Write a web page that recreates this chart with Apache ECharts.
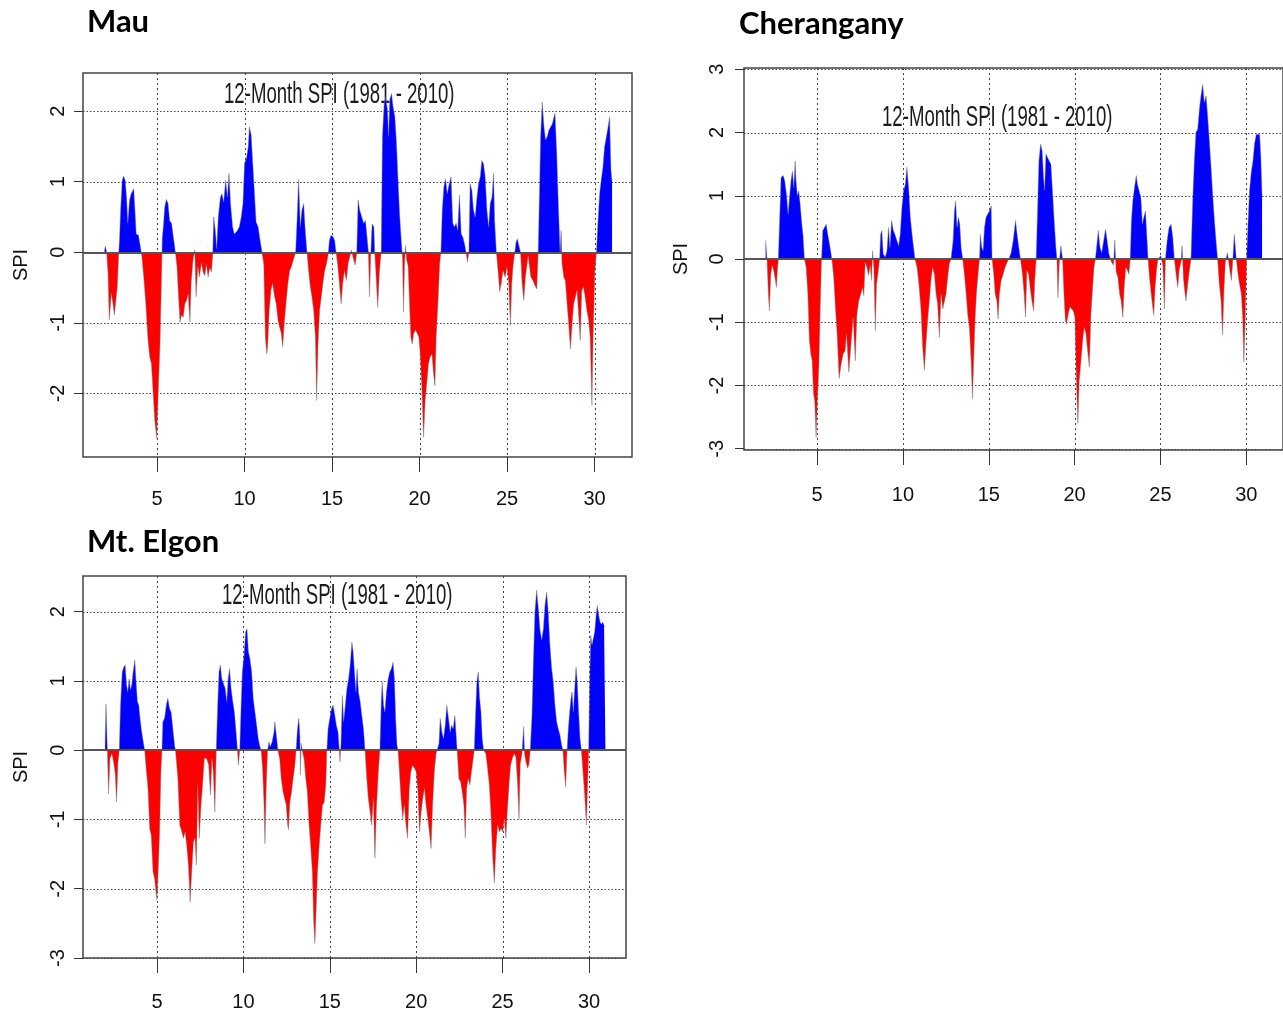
<!DOCTYPE html>
<html><head><meta charset="utf-8">
<script src="https://cdn.jsdelivr.net/npm/echarts@6/dist/echarts.min.js"></script>
<style>html,body{margin:0;padding:0;background:#fff}#c{width:1283px;height:1012px}</style>
</head><body><div id="c"></div>
<script>
// ---------- data ----------
const xTicks = [5, 10, 15, 20, 25, 30];
const mauYTicks = [-2, -1, 0, 1, 2];
const cherYTicks = [-3, -2, -1, 0, 1, 2, 3];
const elgonYTicks = [-3, -2, -1, 0, 1, 2];
const panelTitles = ['Mau', 'Cherangany', 'Mt. Elgon'];
const innerTitle = '12-Month SPI (1981 - 2010)';
const yName = 'SPI';

const mauSPI = [[2.00,0.03],[2.05,0.09],[2.12,0.0],[2.20,-0.30],[2.27,-0.96],[2.39,-0.58],[2.48,-0.73],[2.56,-0.89],[2.65,-0.68],[2.73,-0.49],[2.80,-0.07],[2.86,0.20],[2.92,0.60],[3.01,1.02],[3.09,1.08],[3.18,1.02],[3.26,0.78],[3.33,0.41],[3.43,0.74],[3.52,0.83],[3.67,0.90],[3.75,0.55],[3.81,0.26],[3.94,0.24],[4.05,0.08],[4.13,-0.05],[4.24,-0.35],[4.36,-0.73],[4.47,-1.20],[4.58,-1.48],[4.68,-1.58],[4.77,-1.96],[4.87,-2.38],[4.98,-2.64],[5.08,-1.91],[5.17,-1.30],[5.21,-1.30],[5.27,-0.20],[5.30,0.20],[5.36,0.36],[5.44,0.64],[5.53,0.75],[5.63,0.69],[5.72,0.45],[5.83,0.41],[5.93,0.22],[6.04,0.02],[6.14,-0.20],[6.23,-0.63],[6.31,-0.99],[6.40,-0.89],[6.50,-0.92],[6.59,-0.73],[6.69,-0.68],[6.78,-0.59],[6.88,-0.99],[6.95,-0.44],[7.06,-0.10],[7.16,0.03],[7.23,-0.63],[7.33,-0.20],[7.42,-0.35],[7.54,-0.15],[7.63,-0.28],[7.73,-0.33],[7.82,-0.17],[7.92,-0.35],[8.01,-0.22],[8.11,-0.28],[8.18,-0.05],[8.24,0.50],[8.33,0.31],[8.41,0.05],[8.50,0.50],[8.62,0.78],[8.71,0.83],[8.81,0.71],[8.92,1.02],[9.02,0.78],[9.11,1.12],[9.20,0.69],[9.32,0.36],[9.41,0.26],[9.55,0.29],[9.70,0.36],[9.81,0.50],[9.91,0.69],[10.00,1.26],[10.11,1.33],[10.21,1.49],[10.28,1.78],[10.38,1.66],[10.47,1.26],[10.57,0.83],[10.66,0.43],[10.78,0.36],[10.89,0.17],[11.00,0.0],[11.10,-0.17],[11.19,-1.20],[11.27,-1.44],[11.32,-1.34],[11.41,-0.82],[11.51,-0.54],[11.60,-0.44],[11.72,-0.63],[11.81,-0.73],[11.91,-0.96],[12.00,-1.06],[12.10,-1.15],[12.18,-1.34],[12.27,-1.01],[12.37,-0.73],[12.48,-0.44],[12.58,-0.26],[12.67,-0.21],[12.79,-0.11],[12.92,0.0],[13.00,0.45],[13.09,1.04],[13.19,0.36],[13.28,0.60],[13.38,0.69],[13.47,0.31],[13.57,0.0],[13.66,-0.26],[13.76,-0.49],[13.85,-0.63],[13.95,-0.82],[14.05,-1.20],[14.12,-2.10],[14.20,-1.30],[14.29,-0.82],[14.39,-0.63],[14.48,-0.44],[14.58,-0.26],[14.68,-0.17],[14.77,-0.05],[14.85,0.17],[14.94,0.24],[15.06,0.22],[15.15,0.17],[15.23,0.0],[15.32,-0.17],[15.42,-0.44],[15.52,-0.73],[15.61,-0.44],[15.71,-0.26],[15.82,-0.40],[15.92,-0.16],[16.01,-0.07],[16.11,0.03],[16.20,-0.07],[16.32,-0.18],[16.41,-0.02],[16.49,0.74],[16.58,0.60],[16.70,0.50],[16.81,0.41],[16.91,0.45],[17.00,0.22],[17.08,0.0],[17.14,-0.63],[17.21,-0.05],[17.29,0.40],[17.39,0.36],[17.44,0.0],[17.52,-0.35],[17.61,-0.78],[17.71,-0.26],[17.81,0.0],[17.88,1.64],[17.98,2.11],[18.07,2.20],[18.17,2.01],[18.23,1.64],[18.30,2.16],[18.40,2.25],[18.49,2.06],[18.59,1.92],[18.68,1.56],[18.78,0.97],[18.87,0.50],[18.97,0.12],[19.03,-0.10],[19.08,-0.85],[19.14,-0.20],[19.20,0.10],[19.26,-0.10],[19.35,-0.20],[19.43,-0.73],[19.50,-1.20],[19.58,-1.30],[19.67,-1.15],[19.77,-1.10],[19.87,-1.15],[19.96,-1.20],[20.04,-1.44],[20.13,-1.91],[20.23,-2.62],[20.32,-2.10],[20.42,-1.84],[20.51,-1.58],[20.61,-1.48],[20.71,-1.44],[20.80,-1.72],[20.88,-1.89],[20.95,-1.20],[21.05,-0.73],[21.15,-0.17],[21.22,0.0],[21.30,0.60],[21.39,0.93],[21.49,1.04],[21.58,0.83],[21.68,0.95],[21.80,1.07],[21.90,0.41],[21.99,0.36],[22.09,0.41],[22.18,0.31],[22.28,0.81],[22.38,0.26],[22.47,0.22],[22.57,0.12],[22.66,0.0],[22.74,-0.14],[22.82,0.0],[22.89,0.97],[22.99,0.88],[23.08,0.60],[23.18,0.50],[23.28,0.78],[23.37,0.97],[23.47,1.07],[23.56,1.30],[23.66,1.25],[23.75,1.07],[23.85,0.60],[23.95,0.36],[24.04,0.69],[24.14,0.78],[24.23,1.12],[24.29,0.45],[24.39,0.0],[24.50,-0.30],[24.58,-0.56],[24.67,-0.44],[24.77,-0.26],[24.89,-0.35],[25.00,-0.21],[25.10,-0.44],[25.19,-1.04],[25.27,-0.44],[25.34,-0.21],[25.44,0.0],[25.52,0.15],[25.59,0.19],[25.69,0.19],[25.77,0.0],[25.86,-0.44],[25.96,-0.68],[26.05,-0.35],[26.15,-0.16],[26.21,-0.05],[26.26,-0.16],[26.36,-0.35],[26.48,-0.40],[26.59,-0.47],[26.70,-0.52],[26.78,0.0],[26.84,0.69],[26.92,1.64],[27.01,2.13],[27.11,1.78],[27.20,1.59],[27.30,1.64],[27.39,1.73],[27.49,1.73],[27.59,1.82],[27.68,1.92],[27.74,1.97],[27.84,1.40],[27.93,0.69],[28.03,0.0],[28.09,0.31],[28.14,-0.16],[28.24,-0.35],[28.33,-0.40],[28.43,-0.73],[28.52,-1.01],[28.62,-1.37],[28.72,-1.01],[28.81,-0.73],[28.91,-0.63],[29.00,-0.54],[29.10,-0.92],[29.18,-1.25],[29.27,-0.54],[29.37,-0.49],[29.46,-0.63],[29.56,-0.82],[29.66,-0.96],[29.75,-1.20],[29.85,-2.17],[29.92,-1.20],[30.02,-0.26],[30.11,0.0],[30.19,0.41],[30.29,0.83],[30.38,1.02],[30.48,1.21],[30.57,1.49],[30.67,1.63],[30.77,1.77],[30.86,1.92],[30.94,1.16],[31.00,1.00]];

const cherSPI = [[2.00,0.30],[2.08,0.0],[2.16,-0.55],[2.22,-0.82],[2.30,-0.24],[2.39,-0.10],[2.49,-0.21],[2.57,-0.34],[2.63,-0.45],[2.68,-0.20],[2.74,0.0],[2.80,0.50],[2.90,1.29],[3.02,1.32],[3.11,1.24],[3.21,1.03],[3.31,0.71],[3.39,0.97],[3.48,1.24],[3.56,1.39],[3.64,1.13],[3.72,1.55],[3.77,1.24],[3.85,1.00],[3.93,1.08],[4.01,0.87],[4.11,0.55],[4.18,0.37],[4.26,0.0],[4.36,-0.13],[4.46,-0.55],[4.55,-1.29],[4.63,-1.50],[4.71,-1.61],[4.79,-2.13],[4.86,-2.24],[4.94,-2.82],[5.02,-2.21],[5.10,-1.71],[5.18,-0.79],[5.25,-0.05],[5.33,0.45],[5.43,0.50],[5.53,0.55],[5.62,0.39],[5.72,0.24],[5.86,0.0],[5.97,-0.30],[6.07,-0.79],[6.17,-1.21],[6.28,-1.89],[6.40,-1.66],[6.52,-1.50],[6.63,-1.45],[6.71,-1.18],[6.85,-1.79],[6.96,-1.39],[7.10,-0.92],[7.22,-1.61],[7.32,-0.87],[7.43,-0.66],[7.55,-0.55],[7.65,-0.45],[7.72,-0.58],[7.80,-0.05],[7.90,-0.13],[8.00,-0.26],[8.09,-0.10],[8.17,-0.34],[8.23,0.13],[8.31,-0.16],[8.39,-1.13],[8.46,-0.40],[8.56,-0.20],[8.64,0.0],[8.70,0.39],[8.77,0.45],[8.85,0.08],[8.97,0.03],[9.07,0.13],[9.16,0.50],[9.24,0.18],[9.34,0.61],[9.44,0.45],[9.53,0.39],[9.65,0.29],[9.75,0.21],[9.84,0.39],[9.94,0.82],[10.04,1.08],[10.14,1.18],[10.23,1.45],[10.33,1.13],[10.43,0.66],[10.53,0.39],[10.62,0.18],[10.70,0.0],[10.82,-0.13],[10.93,-0.40],[11.05,-0.80],[11.15,-1.40],[11.25,-1.76],[11.34,-1.34],[11.44,-0.97],[11.54,-0.66],[11.63,-0.34],[11.73,-0.13],[11.83,-0.24],[11.93,-0.55],[12.02,-0.71],[12.12,-1.24],[12.22,-0.55],[12.32,-0.79],[12.41,-0.79],[12.51,-0.55],[12.61,-0.29],[12.70,-0.08],[12.80,0.0],[12.92,0.29],[13.00,0.76],[13.07,0.92],[13.15,0.50],[13.23,0.66],[13.31,0.55],[13.39,0.18],[13.48,0.0],[13.58,-0.24],[13.68,-0.55],[13.77,-0.87],[13.87,-1.08],[13.97,-1.61],[14.05,-2.21],[14.12,-1.61],[14.20,-0.97],[14.28,-0.55],[14.36,-0.29],[14.46,0.0],[14.51,0.39],[14.59,0.18],[14.67,0.13],[14.75,0.50],[14.84,0.66],[14.94,0.71],[15.04,0.76],[15.14,0.84],[15.19,0.0],[15.29,-0.24],[15.37,-0.55],[15.47,-0.66],[15.54,-0.95],[15.62,-0.55],[15.72,-0.34],[15.84,-0.24],[15.95,-0.13],[16.07,-0.05],[16.17,0.0],[16.30,0.10],[16.42,0.29],[16.56,0.61],[16.65,0.39],[16.75,0.18],[16.85,0.0],[16.96,-0.24],[17.06,-0.55],[17.14,-0.92],[17.22,-0.18],[17.32,-0.24],[17.41,-0.45],[17.51,-0.66],[17.61,-0.82],[17.68,-0.34],[17.76,0.0],[17.84,0.76],[17.92,1.55],[18.02,1.82],[18.11,1.71],[18.19,1.29],[18.25,1.08],[18.33,1.66],[18.42,1.61],[18.52,1.55],[18.62,1.50],[18.72,1.03],[18.81,0.61],[18.91,0.18],[18.97,0.0],[19.03,-0.61],[19.11,-0.05],[19.20,0.21],[19.30,0.0],[19.38,-0.55],[19.46,-0.97],[19.53,-1.03],[19.63,-0.87],[19.73,-0.76],[19.82,-0.79],[19.92,-0.82],[20.02,-0.92],[20.10,-1.87],[20.19,-2.60],[20.27,-1.92],[20.37,-1.61],[20.47,-1.29],[20.56,-1.08],[20.66,-1.18],[20.76,-1.45],[20.86,-1.71],[20.95,-0.87],[21.05,-0.45],[21.13,-0.13],[21.21,0.0],[21.28,0.18],[21.38,0.45],[21.48,0.18],[21.58,0.10],[21.69,0.08],[21.80,0.47],[21.89,0.30],[22.00,0.08],[22.15,-0.05],[22.27,-0.10],[22.34,0.30],[22.42,-0.20],[22.52,-0.29],[22.62,-0.55],[22.71,-0.66],[22.81,-0.92],[22.89,-0.45],[22.98,-0.13],[23.08,-0.18],[23.16,-0.24],[23.24,0.0],[23.31,0.61],[23.39,0.92],[23.49,1.13],[23.59,1.32],[23.66,1.18],[23.76,1.08],[23.86,0.97],[23.95,0.55],[24.03,0.66],[24.13,0.76],[24.21,0.79],[24.28,0.0],[24.36,-0.29],[24.46,-0.55],[24.55,-0.76],[24.61,-0.89],[24.69,-0.45],[24.79,-0.13],[24.86,0.0],[25.02,0.05],[25.14,-0.10],[25.23,-0.79],[25.29,0.0],[25.39,0.29],[25.50,0.50],[25.62,0.55],[25.72,0.34],[25.81,0.0],[25.91,-0.24],[26.01,-0.45],[26.10,-0.16],[26.20,-0.05],[26.26,0.21],[26.34,-0.30],[26.41,-0.50],[26.49,-0.66],[26.59,-0.40],[26.69,-0.18],[26.78,0.0],[26.88,0.92],[26.98,1.58],[27.07,2.00],[27.17,2.05],[27.27,2.37],[27.36,2.58],[27.46,2.76],[27.56,2.47],[27.66,2.58],[27.75,2.26],[27.85,1.87],[27.95,1.45],[28.04,1.03],[28.14,0.63],[28.24,0.29],[28.33,0.0],[28.43,-0.40],[28.53,-0.66],[28.62,-1.20],[28.70,-0.50],[28.78,-0.05],[28.90,0.10],[28.99,0.13],[29.13,-0.34],[29.21,-0.05],[29.30,0.39],[29.42,0.0],[29.52,-0.24],[29.61,-0.40],[29.71,-0.55],[29.79,-0.92],[29.86,-1.63],[29.94,-0.95],[30.02,0.0],[30.10,0.55],[30.19,1.08],[30.29,1.37],[30.39,1.55],[30.48,1.82],[30.58,1.97],[30.68,1.97],[30.78,1.97],[30.85,1.60],[30.92,1.00]];

const elgonSPI = [[2.00,0.10],[2.05,0.67],[2.13,0.0],[2.20,-0.63],[2.28,-0.12],[2.39,-0.05],[2.49,-0.17],[2.59,-0.35],[2.66,-0.75],[2.74,-0.20],[2.82,0.0],[2.89,0.65],[2.99,1.13],[3.08,1.20],[3.16,1.23],[3.24,0.94],[3.31,0.84],[3.39,1.03],[3.47,0.87],[3.54,0.94],[3.62,1.13],[3.72,1.30],[3.79,0.99],[3.87,0.70],[3.95,0.65],[4.02,0.46],[4.12,0.26],[4.21,0.12],[4.29,0.0],[4.39,-0.31],[4.48,-0.55],[4.58,-1.13],[4.67,-1.23],[4.77,-1.75],[4.87,-1.87],[4.94,-2.04],[5.00,-2.16],[5.08,-1.68],[5.15,-1.20],[5.23,-0.30],[5.29,0.0],[5.34,0.41],[5.44,0.46],[5.54,0.65],[5.63,0.75],[5.73,0.60],[5.82,0.55],[5.92,0.31],[6.02,0.07],[6.07,0.0],[6.21,-0.41],[6.32,-1.08],[6.44,-1.18],[6.53,-1.27],[6.63,-1.18],[6.72,-1.37],[6.82,-1.66],[6.92,-2.19],[7.01,-1.75],[7.11,-1.32],[7.20,-1.27],[7.28,-1.66],[7.36,-0.50],[7.45,-1.27],[7.55,-0.79],[7.64,-0.50],[7.74,-0.12],[7.87,-0.12],[7.99,-0.21],[8.10,-0.65],[8.18,-0.12],[8.26,-0.31],[8.35,-0.89],[8.43,0.0],[8.52,0.70],[8.59,1.13],[8.67,1.23],[8.75,1.03],[8.85,1.03],[8.95,0.89],[9.04,0.70],[9.12,1.03],[9.20,1.18],[9.29,0.89],[9.39,0.70],[9.48,0.55],[9.58,0.26],[9.66,0.0],[9.71,-0.22],[9.79,0.0],[9.87,0.65],[9.94,1.13],[10.04,1.37],[10.13,1.71],[10.21,1.75],[10.29,1.42],[10.38,1.32],[10.48,1.13],[10.57,0.75],[10.67,0.55],[10.77,0.36],[10.86,0.17],[10.96,0.05],[11.03,0.0],[11.11,-0.26],[11.19,-0.75],[11.25,-1.35],[11.32,-0.55],[11.40,0.0],[11.48,0.12],[11.55,0.05],[11.66,0.12],[11.77,0.26],[11.82,0.41],[11.93,0.17],[12.00,0.0],[12.10,-0.12],[12.19,-0.41],[12.29,-0.60],[12.39,-0.70],[12.48,-0.79],[12.56,-1.08],[12.61,-1.15],[12.69,-0.75],[12.79,-0.60],[12.88,-0.41],[12.98,-0.22],[13.05,0.0],[13.13,0.31],[13.21,0.46],[13.27,0.20],[13.30,-0.36],[13.34,0.10],[13.40,0.0],[13.51,-0.12],[13.61,-0.41],[13.70,-0.60],[13.80,-1.08],[13.89,-1.37],[13.99,-1.75],[14.07,-2.48],[14.14,-2.79],[14.22,-2.24],[14.29,-1.75],[14.39,-1.37],[14.48,-1.08],[14.58,-0.79],[14.68,-0.75],[14.77,-0.50],[14.83,0.0],[14.90,0.31],[15.00,0.46],[15.10,0.60],[15.19,0.65],[15.29,0.51],[15.38,0.36],[15.48,0.26],[15.55,0.0],[15.59,-0.17],[15.65,0.10],[15.73,0.79],[15.80,0.41],[15.90,0.65],[15.99,0.89],[16.09,1.03],[16.18,1.23],[16.28,1.56],[16.35,1.42],[16.43,1.13],[16.51,0.84],[16.58,1.18],[16.66,0.84],[16.76,0.70],[16.85,0.51],[16.95,0.31],[17.04,0.0],[17.14,-0.41],[17.23,-0.70],[17.33,-0.89],[17.42,-1.08],[17.52,-0.70],[17.61,-1.56],[17.71,-0.79],[17.81,-0.31],[17.90,0.0],[17.98,0.70],[18.03,0.99],[18.11,0.65],[18.19,0.55],[18.28,0.84],[18.38,1.03],[18.47,1.13],[18.57,1.18],[18.66,1.27],[18.74,1.03],[18.82,0.41],[18.89,0.07],[18.95,0.0],[19.03,-0.31],[19.12,-0.70],[19.22,-0.99],[19.31,-0.79],[19.41,-1.08],[19.50,-1.27],[19.60,-0.55],[19.69,-0.31],[19.79,-0.22],[19.90,-0.26],[20.00,-0.31],[20.10,-0.60],[20.19,-1.18],[20.29,-0.89],[20.38,-0.70],[20.48,-0.55],[20.57,-0.79],[20.67,-0.99],[20.76,-1.18],[20.86,-1.42],[20.95,-0.79],[21.05,-0.31],[21.15,-0.05],[21.22,-0.07],[21.32,0.10],[21.39,0.46],[21.49,0.26],[21.58,0.17],[21.68,0.36],[21.77,0.65],[21.87,0.46],[21.97,0.26],[22.05,0.36],[22.14,0.31],[22.24,0.50],[22.30,0.26],[22.37,0.0],[22.47,-0.41],[22.57,-0.46],[22.66,-0.60],[22.76,-0.79],[22.84,-1.27],[22.92,-0.55],[23.01,-0.41],[23.11,-0.50],[23.20,-0.31],[23.30,-0.12],[23.36,0.0],[23.44,0.55],[23.51,0.99],[23.59,1.13],[23.67,0.75],[23.75,0.55],[23.82,0.17],[23.90,0.0],[24.03,-0.05],[24.13,-0.26],[24.23,-0.50],[24.32,-0.89],[24.42,-1.51],[24.52,-1.92],[24.61,-1.42],[24.71,-1.08],[24.81,-1.18],[24.90,-1.13],[25.00,-1.18],[25.10,-0.99],[25.19,-1.27],[25.27,-0.89],[25.37,-0.50],[25.46,-0.22],[25.58,-0.10],[25.68,-0.05],[25.77,-0.10],[25.87,-0.50],[25.95,-1.00],[26.02,-0.20],[26.12,-0.05],[26.22,0.34],[26.27,-0.05],[26.35,-0.17],[26.45,-0.26],[26.53,-0.20],[26.60,0.0],[26.70,0.50],[26.78,1.27],[26.87,1.99],[26.97,2.31],[27.07,2.04],[27.16,1.75],[27.26,1.59],[27.36,1.75],[27.45,2.09],[27.55,2.28],[27.64,1.99],[27.74,1.51],[27.84,1.18],[27.93,0.99],[28.03,0.65],[28.13,0.41],[28.22,0.31],[28.32,0.22],[28.42,0.07],[28.49,0.0],[28.57,-0.30],[28.65,-0.53],[28.73,0.0],[28.80,0.30],[28.88,0.55],[28.96,0.75],[29.02,0.84],[29.09,0.55],[29.17,0.89],[29.25,1.20],[29.32,0.99],[29.40,0.55],[29.48,0.17],[29.56,0.0],[29.65,-0.31],[29.75,-0.65],[29.85,-1.08],[29.92,-0.50],[29.98,0.0],[30.04,1.00],[30.10,1.66],[30.17,1.52],[30.25,1.54],[30.33,1.71],[30.41,1.95],[30.48,2.09],[30.56,1.95],[30.64,1.85],[30.71,1.82],[30.79,1.85],[30.87,1.80],[30.95,1.78]];

// ---------- layout / style ----------
const panels = [
  { data: mauSPI,   yTicks: mauYTicks,   rect: {left: 83,  top: 73,  width: 549, height: 384}, xr: [0.77, 32.14], yr: [-2.90, 2.54], xm: 32, ym: 15, ng: 52, title: {x: 87, y: 22},  inner: {x: 224, y: 95} },
  { data: cherSPI,  yTicks: cherYTicks,  rect: {left: 744, top: 68,  width: 541, height: 382}, xr: [0.74, 32.14], yr: [-3.02, 3.02], xm: 35, ym: 17, ng: 53, title: {x: 739, y: 24}, inner: {x: 882, y: 118} },
  { data: elgonSPI, yTicks: elgonYTicks, rect: {left: 83,  top: 576, width: 543, height: 383}, xr: [0.72, 32.14], yr: [-3.00, 2.515], xm: 34, ym: 15, ng: 52, title: {x: 87, y: 542}, inner: {x: 222, y: 596} }
];

const tickFont = '"Liberation Sans", Arial, Helvetica, sans-serif';
const gridColor = '#444';

function vGrid(params, api) {
  const cs = params.coordSys;
  const px = Math.round(api.coord([api.value(0), api.value(1)])[0]) + 0.5;
  return { type: 'line', shape: {x1: px, y1: cs.y, x2: px, y2: cs.y + cs.height},
           style: {stroke: gridColor, lineWidth: 1, lineDash: [2, 3]} };
}
function hGrid(params, api) {
  const cs = params.coordSys;
  const py = Math.round(api.coord([api.value(0), api.value(1)])[1]) + 0.5;
  return { type: 'line', shape: {x1: cs.x, y1: py, x2: cs.x + cs.width, y2: py},
           style: {stroke: gridColor, lineWidth: 1, lineDash: [1.5, 2]} };
}

const option = {
  animation: false,
  backgroundColor: '#fff',
  grid: panels.map(p => Object.assign({ show: true, borderColor: '#444', borderWidth: 1.5, backgroundColor: 'transparent' }, p.rect)),
  xAxis: panels.map((p, i) => ({
    gridIndex: i, type: 'value', min: p.xr[0], max: p.xr[1], position: 'bottom',
    axisLine: {show: false, onZero: false}, splitLine: {show: false},
    axisTick: {show: true, customValues: xTicks, length: 15, lineStyle: {color: '#333', width: 1}},
    axisLabel: {customValues: xTicks, margin: p.xm, fontSize: 20, color: '#111', fontFamily: tickFont}
  })),
  yAxis: panels.map((p, i) => ({
    gridIndex: i, type: 'value', min: p.yr[0], max: p.yr[1], position: 'left',
    name: yName, nameLocation: 'middle', nameGap: p.ng,
    nameTextStyle: {fontSize: 20, color: '#111', fontFamily: tickFont},
    axisLine: {show: false, onZero: false}, splitLine: {show: false},
    axisTick: {show: true, customValues: p.yTicks, length: 9, lineStyle: {color: '#333', width: 1}},
    axisLabel: {customValues: p.yTicks, rotate: 90, margin: p.ym, fontSize: 20, color: '#111', fontFamily: tickFont}
  })),
  visualMap: {
    type: 'piecewise', show: false, dimension: 1, seriesIndex: [0, 1, 2],
    pieces: [{gt: -10, lt: 0, color: '#ff0000'}, {gte: 0, lt: 10, color: '#0000ff'}]
  },
  series: [],
  graphic: []
};

panels.forEach((p, i) => {
  option.series.push({
    type: 'line', xAxisIndex: i, yAxisIndex: i, data: p.data,
    showSymbol: false, symbol: 'none', z: 3,
    lineStyle: {width: 0.8, color: 'rgba(120,120,120,0.55)'},
    areaStyle: {opacity: 1},
    markLine: { silent: true, symbol: 'none', label: {show: false},
      lineStyle: {type: 'solid', color: '#555', width: 2}, data: [{yAxis: 0}] }
  });
});
panels.forEach((p, i) => {
  option.series.push({ type: 'custom', xAxisIndex: i, yAxisIndex: i, z: 1, silent: true,
    data: xTicks.map(v => [v, 0]), renderItem: vGrid });
  option.series.push({ type: 'custom', xAxisIndex: i, yAxisIndex: i, z: 1, silent: true,
    data: p.yTicks.map(v => [xTicks[0], v]), renderItem: hGrid });
  option.graphic.push({ type: 'text', x: p.title.x, y: p.title.y,
    style: {text: panelTitles[i], font: 'bold 31px Lato, "Noto Sans", sans-serif', fill: '#000', verticalAlign: 'middle', align: 'left'} });
  option.graphic.push({ type: 'text', x: p.inner.x, y: p.inner.y, scaleX: 0.62,
    style: {text: innerTitle, font: '30px "Liberation Sans", Arial, sans-serif', fill: '#1a1a1a', verticalAlign: 'middle', align: 'left'} });
});

const chart = echarts.init(document.getElementById('c'), null, {renderer: 'canvas'});
chart.setOption(option);
</script>
</body></html>
